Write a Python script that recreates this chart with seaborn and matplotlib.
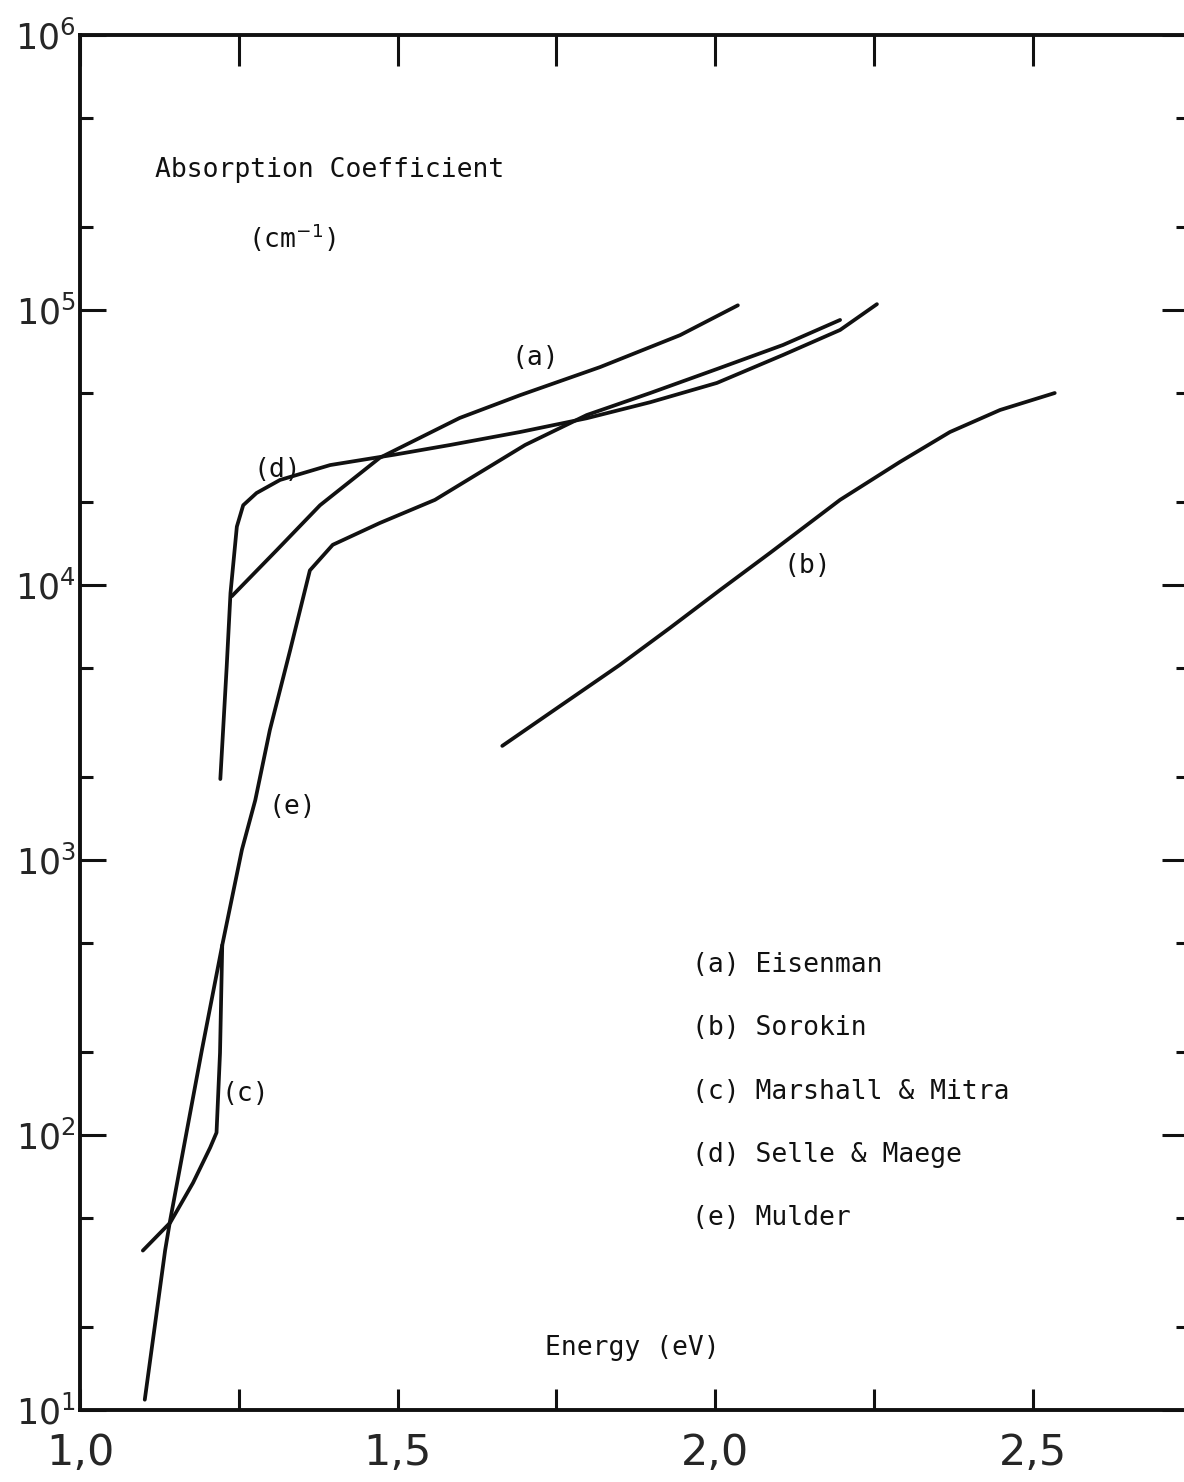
import numpy as np
import pandas as pd
import matplotlib
matplotlib.use('Agg')
import matplotlib.pyplot as plt
import seaborn as sns
from matplotlib.ticker import FixedLocator, FixedFormatter, LogLocator, NullFormatter

### 그림에서 읽은 값 (energy in eV, absorption coefficient in cm^-1)
a_energy = [1.239, 1.31, 1.378, 1.472, 1.598, 1.693, 1.819, 1.945, 2.036]
a_alpha = [9.1e3, 1.34e4, 1.95e4, 2.9e4, 4.05e4, 4.9e4, 6.2e4, 8.1e4, 1.04e5]

b_energy = [1.665, 1.756, 1.850, 1.929, 2.008, 2.087, 2.197, 2.291, 2.370, 2.449, 2.535]
b_alpha = [2600, 3630, 5120, 6980, 9590, 1.31e4, 2.04e4, 2.8e4, 3.6e4, 4.33e4, 4.99e4]

c_energy = [1.099, 1.142, 1.178, 1.205, 1.215, 1.2205, 1.224]
c_alpha = [38, 48, 67, 90, 102, 199, 490]

d_energy = [1.221, 1.231, 1.237, 1.247, 1.257, 1.278, 1.315, 1.394, 1.496,
            1.583, 1.693, 1.798, 1.898, 2.003, 2.107, 2.197, 2.255]
d_alpha = [1970, 5040, 9350, 1.63e4, 1.95e4, 2.16e4, 2.41e4, 2.73e4, 2.98e4,
           3.23e4, 3.6e4, 4.04e4, 4.62e4, 5.43e4, 6.86e4, 8.46e4, 1.05e5]

e_energy = [1.102, 1.134, 1.142, 1.192, 1.224, 1.255, 1.276, 1.299, 1.331, 1.362,
            1.398, 1.472, 1.559, 1.701, 1.798, 1.898, 2.003, 2.107, 2.197]
e_alpha = [10.9, 38, 49, 204, 490, 1090, 1650, 2970, 5800, 1.13e4,
           1.4e4, 1.68e4, 2.04e4, 3.23e4, 4.15e4, 4.99e4, 6.1e4, 7.46e4, 9.2e4]

curve_tags = ['(a)', '(b)', '(c)', '(d)', '(e)']
legend_names = ['Eisenman', 'Sorokin', 'Marshall & Mitra', 'Selle & Maege', 'Mulder']
# 곡선 옆 라벨 위치 (energy, alpha)
tag_energy = [1.717, 2.146, 1.261, 1.310, 1.335]
tag_alpha = [6.68e4, 1.17e4, 141, 2.62e4, 1560]

x_ticks = [1.0, 1.5, 2.0, 2.5]
x_tick_labels = ['1,0', '1,5', '2,0', '2,5']
x_minor = [1.25, 1.75, 2.25]
y_ticks = [1e1, 1e2, 1e3, 1e4, 1e5, 1e6]
y_tick_labels = ['$10^{1}$', '$10^{2}$', '$10^{3}$', '$10^{4}$', '$10^{5}$', '$10^{6}$']

# 데이터프레임으로 묶기
frames = []
for tag, xs, ys in zip(curve_tags, [a_energy, b_energy, c_energy, d_energy, e_energy],
                       [a_alpha, b_alpha, c_alpha, d_alpha, e_alpha]):
    frames.append(pd.DataFrame({'energy': xs, 'alpha': ys, 'curve': tag}))
df = pd.concat(frames, ignore_index=True)

sns.set_style('ticks')
plt.rcParams['font.family'] = ['DejaVu Sans Mono', 'DejaVu Sans']
plt.rcParams['mathtext.fontset'] = 'dejavusans'

fig = plt.figure(figsize=(11.84, 14.82), dpi=100)
ax = fig.add_axes([80 / 1184, 72 / 1482, 1108 / 1184, 1375 / 1482])

for tag in curve_tags:
    sub = df[df['curve'] == tag]
    sns.lineplot(data=sub, x='energy', y='alpha', ax=ax, color='#111111',
                 linewidth=2.7, sort=False, estimator=None)

ax.set_yscale('log')
ax.set_xlim(1.0, 1.0 + 1108 / 635)
ax.set_ylim(1e1, 1e6)
ax.set_xlabel('')
ax.set_ylabel('')

# 눈금 설정
ax.xaxis.set_major_locator(FixedLocator(x_ticks))
ax.xaxis.set_major_formatter(FixedFormatter(x_tick_labels))
ax.xaxis.set_minor_locator(FixedLocator(x_minor))
ax.xaxis.set_minor_formatter(NullFormatter())
ax.yaxis.set_major_locator(FixedLocator(y_ticks))
ax.yaxis.set_major_formatter(FixedFormatter(y_tick_labels))
ax.yaxis.set_minor_locator(LogLocator(base=10, subs=(2.0, 5.0)))
ax.yaxis.set_minor_formatter(NullFormatter())

ax.tick_params(axis='both', which='both', direction='in', right=True,
               color='#111111', width=2.2)
ax.tick_params(axis='x', which='both', length=15, pad=16, top=False)
ax.tick_params(axis='y', which='major', length=19, pad=3)
ax.tick_params(axis='y', which='minor', length=9)
for lab in ax.get_xticklabels():
    lab.set_fontfamily('DejaVu Sans')
    lab.set_fontsize(31)
for lab in ax.get_yticklabels():
    lab.set_fontsize(25)

# 위쪽 눈금은 더 길게
top = ax.secondary_xaxis('top')
top.xaxis.set_major_locator(FixedLocator(x_ticks + x_minor))
top.xaxis.set_major_formatter(NullFormatter())
top.tick_params(axis='x', which='both', direction='in', length=22,
                width=2.2, color='#111111')
top.spines['top'].set_visible(False)

for side in ['left', 'top', 'bottom']:
    ax.spines[side].set_linewidth(2.8)
    ax.spines[side].set_color('#111111')
ax.spines['right'].set_visible(False)

# 축 제목 (그림 안쪽)
txt_kw = dict(fontsize=19, color='#111111', va='center')
ax.text(1.118, 3.23e5, 'Absorption Coefficient', **txt_kw)
ax.text(1.265, 1.83e5, '(cm$^{-1}$)', **txt_kw)
ax.text(1.732, 16.8, 'Energy (eV)', **txt_kw)

# 곡선 라벨
for tag, ex, ay in zip(curve_tags, tag_energy, tag_alpha):
    ax.text(ex, ay, tag, ha='center', **txt_kw)

# 범례 (텍스트 목록)
legend_y = [0.3236, 0.2778, 0.2313, 0.1855, 0.1396]
for tag, name, ly in zip(curve_tags, legend_names, legend_y):
    ax.text(0.5525, ly, f'{tag} {name}', transform=ax.transAxes, **txt_kw)

fig.savefig('out.png', dpi=100, facecolor='white')
plt.close()
